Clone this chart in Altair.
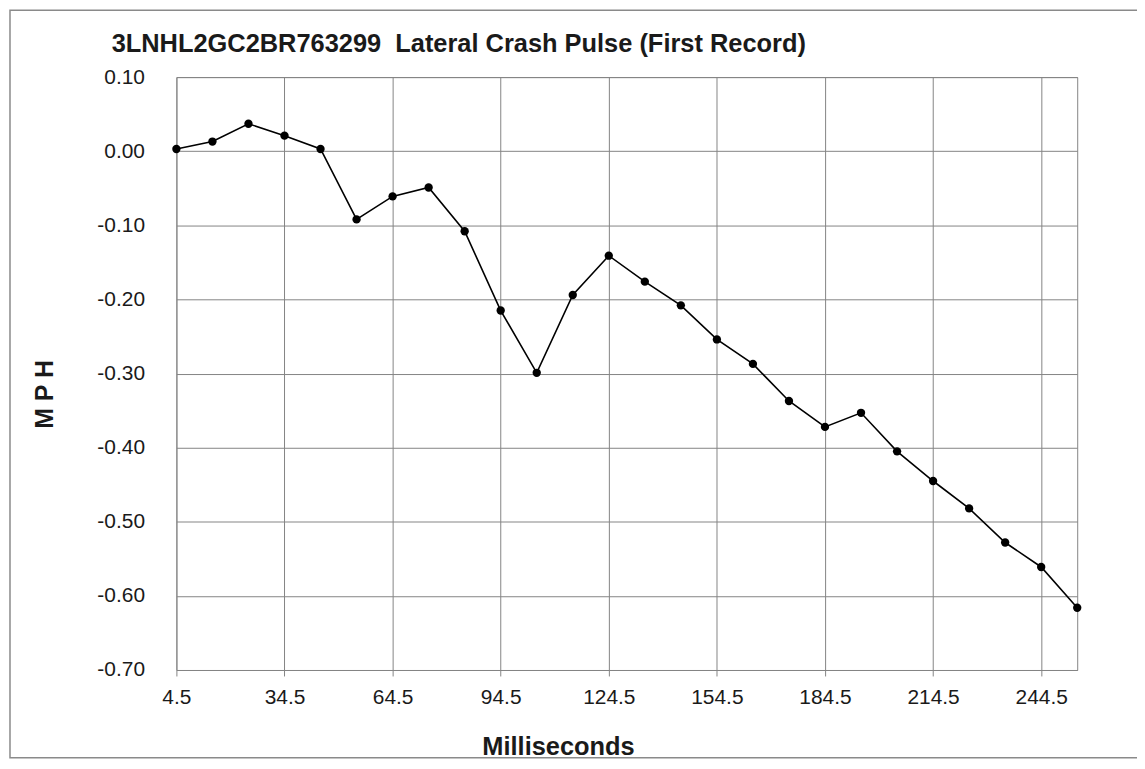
import altair as alt
import pandas as pd

# ---- data ----
ms = [4.5, 14.5, 24.5, 34.5, 44.5, 54.5, 64.5, 74.5, 84.5, 94.5, 104.5, 114.5, 124.5,
      134.5, 144.5, 154.5, 164.5, 174.5, 184.5, 194.5, 204.5, 214.5, 224.5, 234.5, 244.5, 254.5]
mph = [0.003, 0.013, 0.037, 0.021, 0.003, -0.092, -0.061, -0.049, -0.108, -0.215, -0.299,
       -0.194, -0.141, -0.176, -0.208, -0.254, -0.287, -0.337, -0.372, -0.353, -0.405,
       -0.445, -0.482, -0.528, -0.561, -0.616]
x_ticks = [4.5, 34.5, 64.5, 94.5, 124.5, 154.5, 184.5, 214.5, 244.5]
y_ticks = [0.1, 0.0, -0.1, -0.2, -0.3, -0.4, -0.5, -0.6, -0.7]
title_text = "3LNHL2GC2BR763299\u00a0\u00a0Lateral Crash Pulse (First Record)"
x_title = "Milliseconds"
y_title = "M P H"

df = pd.DataFrame({"ms": ms, "mph": mph})

FONT = "Liberation Sans"
GRID = "#858585"
TXT = "#1a1a1a"

x_enc = alt.X(
    "ms:Q",
    scale=alt.Scale(domain=[4.5, 254.5], nice=False, zero=False),
    axis=alt.Axis(
        values=x_ticks,
        labelExpr="format(datum.value, '.1f')",
        labelFlush=False,
        labelFontSize=21,
        labelPadding=11,
        labelColor=TXT,
        tickSize=6,
        tickColor=GRID,
        domain=False,
        grid=True,
        gridColor=GRID,
        gridWidth=1,
        title=x_title,
        titleX=383,
        titleY=85,
        titleAlign="center",
        titleBaseline="alphabetic",
        titleFontSize=25.5,
        titleFontWeight="bold",
        titleColor=TXT,
    ),
)

y_enc = alt.Y(
    "mph:Q",
    scale=alt.Scale(domain=[-0.7, 0.1], nice=False, zero=False),
    axis=alt.Axis(
        values=y_ticks,
        labelExpr="replace(format(datum.value, '.2f'), '\u2212', '-')",
        labelFontSize=21,
        labelPadding=32,
        labelColor=TXT,
        ticks=False,
        domain=False,
        grid=True,
        gridColor=GRID,
        gridWidth=1,
        title=y_title,
        titleX=-132,
        titleY=318,
        titleAlign="center",
        titleBaseline="middle",
        titleFontSize=25,
        titleFontWeight="bold",
        titleColor=TXT,
    ),
)

base = alt.Chart(df)
line = base.mark_line(color="#000000", strokeWidth=1.6).encode(x=x_enc, y=y_enc)
pts = base.mark_point(filled=True, color="#000000", size=70, opacity=1).encode(x="ms:Q", y="mph:Q")

frame = alt.Chart(pd.DataFrame({"f": [0]})).mark_rect(
    fillOpacity=0, stroke="#8a8a8a", strokeWidth=1.5
).encode(
    x=alt.value(-167), x2=alt.value(990), y=alt.value(-67), y2=alt.value(683)
)

chart = alt.layer(frame, line, pts).properties(
    width=904,
    height=595,
    autosize=alt.AutoSizeParams(type="none"),
    padding={"left": 169, "top": 68, "right": 60, "bottom": 89},
    title=alt.TitleParams(
        text=title_text,
        anchor="start",
        frame="group",
        dx=-65,
        offset=-68,
        baseline="alphabetic",
        fontSize=25.5,
        fontWeight="bold",
        font=FONT,
        color=TXT,
    ),
).configure_axis(
    labelFont=FONT, titleFont=FONT
).configure_view(
    stroke=GRID, strokeWidth=1
)

chart.save("out.html", embed_options={"renderer": "svg", "actions": False})
